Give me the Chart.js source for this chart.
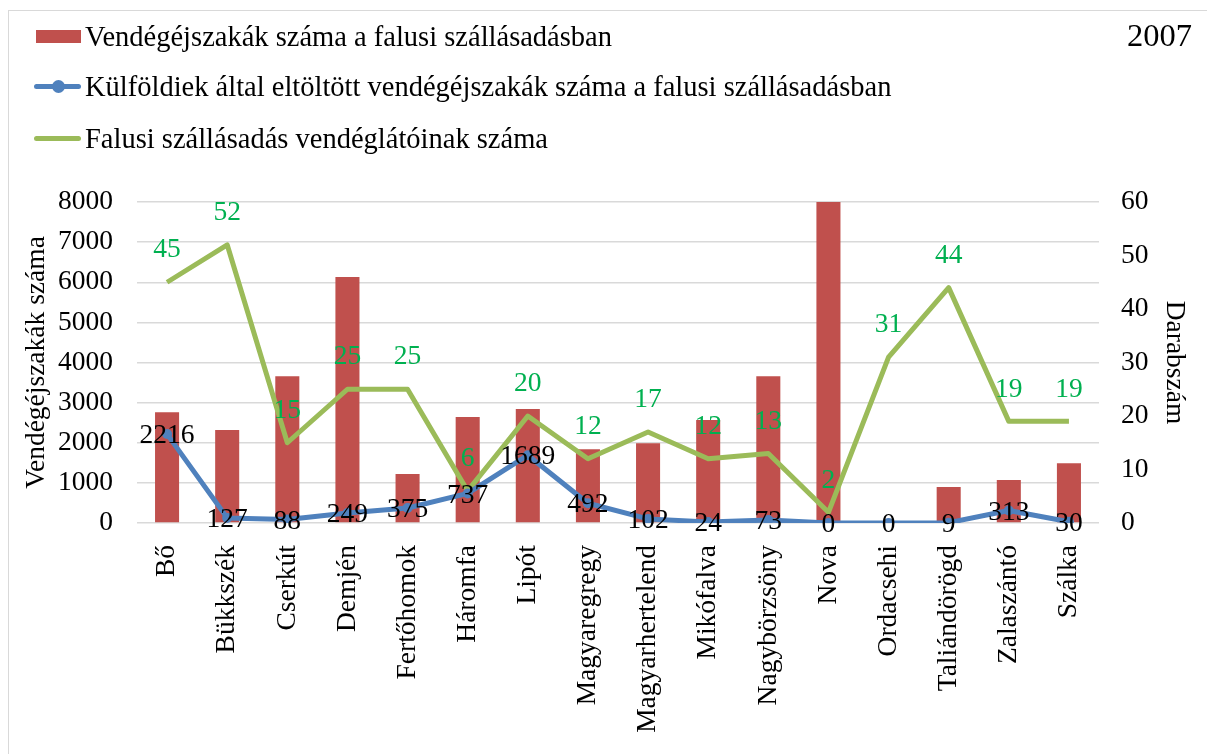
<!DOCTYPE html>
<html lang="hu">
<head>
<meta charset="utf-8">
<script src="https://cdn.jsdelivr.net/npm/chart.js@4"></script>
<style>
    body { margin: 0; background: #fff; font-family: 'Liberation Serif', 'Times New Roman', serif; }
    #keret { position: absolute; left: 8px; top: 10px; width: 1400px; height: 900px; border: 1.5px solid #d9d9d9; }
    #doboz { position: absolute; left: 0; top: 0; width: 1207px; height: 754px; }
    .jelmagyarazat { position: absolute; font-size: 28.5px; line-height: 32px; white-space: nowrap; color: #000; }
    .minta { position: absolute; }
    #ev { position: absolute; right: 15px; top: 17px; font-size: 32.5px; line-height: 36px; color: #000; }
</style>
</head>
<body>
<div id="keret"></div>
<div id="doboz">
    <canvas id="myChart" width="1207" height="754"></canvas>
</div>

<!-- jelmagyarázat -->
<div class="minta" style="left:36px; top:30px; width:45px; height:13px; background:#C0504D;"></div>
<div class="jelmagyarazat" style="left:85px; top:21px;">Vendégéjszakák száma a falusi szállásadásban</div>

<div class="minta" style="left:34px; top:84px; width:47px; height:5px; background:#4F81BD; border-radius:3px;"></div>
<div class="minta" style="left:52px; top:80px; width:13px; height:13px; background:#4F81BD; border-radius:50%;"></div>
<div class="jelmagyarazat" style="left:85px; top:71px;">Külföldiek által eltöltött vendégéjszakák száma a falusi szállásadásban</div>

<div class="minta" style="left:34px; top:136px; width:47px; height:5px; background:#9BBB59; border-radius:3px;"></div>
<div class="jelmagyarazat" style="left:85px; top:123px;">Falusi szállásadás vendéglátóinak száma</div>

<div id="ev">2007</div>

<script>
// Települések
const telepulesek = ["Bő", "Bükkszék", "Cserkút", "Demjén", "Fertőhomok", "Háromfa", "Lipót",
                     "Magyaregregy", "Magyarhertelend", "Mikófalva", "Nagybörzsöny", "Nova",
                     "Ordacsehi", "Taliándörögd", "Zalaszántó", "Szálka"];

// Vendégéjszakák száma (oszlopok, bal tengely)
const vendegejszakak = [2760, 2320, 3660, 6130, 1220, 2640, 2840, 1840, 1990, 2570, 3660, 8000, 0, 900, 1070, 1490];

// Külföldiek által eltöltött vendégéjszakák (kék vonal, bal tengely)
const kulfoldiek = [2216, 127, 88, 249, 375, 737, 1689, 492, 102, 24, 73, 0, 0, 9, 313, 30];

// Vendéglátók száma (zöld vonal, jobb tengely)
const vendeglatok = [45, 52, 15, 25, 25, 6, 20, 12, 17, 12, 13, 2, 31, 44, 19, 19];

// Tengely beosztások
const balTengely = { min: 0, max: 8000, lepes: 1000 };
const jobbTengely = { min: 0, max: 60, lepes: 10 };

const betu = { family: "'Liberation Serif', 'Times New Roman', serif", size: 27.5 };

// Adatfeliratok kirajzolása (nincs datalabels plugin)
const feliratok = {
    id: 'feliratok',
    afterDatasetsDraw(chart) {
        const ctx = chart.ctx;
        chart.data.datasets.forEach((ds, i) => {
            if (!ds.felirat) return;
            const meta = chart.getDatasetMeta(i);
            ctx.save();
            ctx.font = betu.size + 'px ' + betu.family;
            ctx.fillStyle = ds.felirat.szin;
            ctx.textAlign = 'center';
            ctx.textBaseline = 'middle';
            meta.data.forEach((pont, j) => {
                ctx.fillText(String(ds.data[j]), pont.x, pont.y + ds.felirat.eltolas);
            });
            ctx.restore();
        });
    }
};

const ctx = document.getElementById('myChart').getContext('2d');
const myChart = new Chart(ctx, {
    type: 'bar',
    data: {
        labels: telepulesek,
        datasets: [
            {
                type: 'line',
                label: 'Külföldiek által eltöltött vendégéjszakák száma a falusi szállásadásban',
                data: kulfoldiek,
                yAxisID: 'y',
                borderColor: '#4F81BD',
                backgroundColor: '#4F81BD',
                borderWidth: 5,
                pointRadius: 5,
                pointBorderWidth: 0,
                borderJoinStyle: 'round',
                tension: 0,
                order: 1,
                felirat: { szin: '#000', eltolas: 2 }
            },
            {
                type: 'line',
                label: 'Falusi szállásadás vendéglátóinak száma',
                data: vendeglatok,
                yAxisID: 'y1',
                borderColor: '#9BBB59',
                backgroundColor: '#9BBB59',
                borderWidth: 5,
                pointRadius: 0,
                borderJoinStyle: 'round',
                tension: 0,
                order: 2,
                felirat: { szin: '#00B050', eltolas: -32 }
            },
            {
                label: 'Vendégéjszakák száma a falusi szállásadásban',
                data: vendegejszakak,
                yAxisID: 'y',
                backgroundColor: '#C0504D',
                barPercentage: 0.4,
                categoryPercentage: 1.0,
                order: 3
            }
        ]
    },
    options: {
        responsive: false,
        animation: false,
        layout: { padding: { top: 202, left: 0, right: 0, bottom: 0 } },
        scales: {
            x: {
                grid: { display: false },
                border: { display: false },
                ticks: { minRotation: 90, maxRotation: 90, font: betu, color: '#000', padding: 14, autoSkip: false },
                afterFit(s) { s.height = 231; }
            },
            y: {
                position: 'left',
                min: balTengely.min,
                max: balTengely.max,
                ticks: {
                    stepSize: balTengely.lepes, font: betu, color: '#000', padding: 24,
                    callback: (v) => String(v)
                },
                grid: { color: '#d9d9d9', lineWidth: 1.5, drawTicks: false },
                border: { display: false },
                title: { display: true, text: 'Vendégéjszakák száma', font: betu, color: '#000', padding: { top: 20, bottom: 0 } },
                afterFit(s) { s.width = 137; }
            },
            y1: {
                position: 'right',
                min: jobbTengely.min,
                max: jobbTengely.max,
                ticks: { stepSize: jobbTengely.lepes, font: betu, color: '#000', padding: 22 },
                grid: { display: false, drawTicks: false },
                border: { display: false },
                title: { display: true, text: 'Darabszám', font: betu, color: '#000', padding: { top: 16, bottom: 0 } },
                afterFit(s) { s.width = 108; }
            }
        },
        plugins: {
            legend: { display: false },
            tooltip: { enabled: false }
        }
    },
    plugins: [feliratok]
});
</script>
</body>
</html>
